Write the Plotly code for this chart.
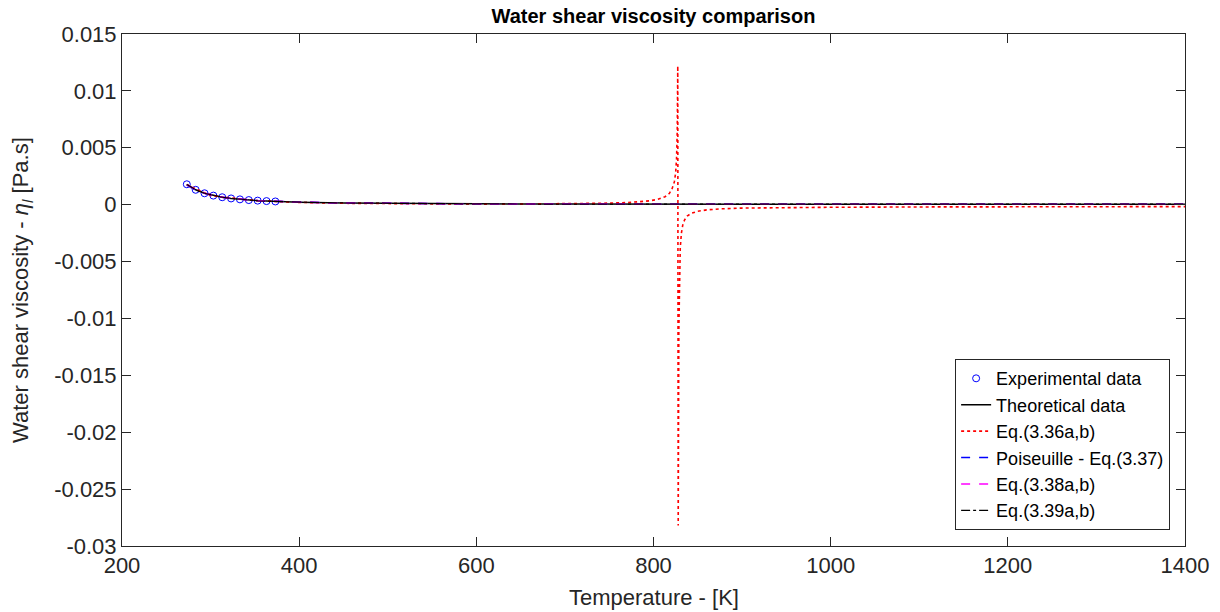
import plotly.graph_objects as go

# ---- data ----
T_exp = [273.15, 283.15, 293.15, 303.15, 313.15, 323.15, 333.15, 343.15, 353.15, 363.15, 373.15]
eta_exp = [0.001792, 0.001307, 0.001002, 0.000797, 0.000653, 0.000547, 0.000466, 0.000404, 0.000354, 0.000314, 0.000282]

T_th = [273.15, 283.15, 293.15, 303.15, 313.15, 323.15, 333.15, 343.15, 353.15, 363.15, 373.15,
        400, 450, 500, 550, 600, 700, 800, 900, 1000, 1100, 1200, 1300, 1400]
eta_th = [0.001792, 0.001307, 0.001002, 0.000797, 0.000653, 0.000547, 0.000466, 0.000404, 0.000354, 0.000314, 0.000282,
          0.00022, 0.00015, 0.00011, 0.00009, 0.00007, 0.00005, 0.00004, 0.00004, 0.00004, 0.00004, 0.00004, 0.00004, 0.00004]

T_336 = [273.15, 300, 350, 400, 450, 500, 550, 600, 650, 700, 740, 770, 785, 795, 805, 813, 818, 821, 823.5, 825, 826, 826.8, 827.4,
         827.9, 828.6, 829.3, 830.2, 831.5, 833, 835, 838, 843, 850, 860, 875, 900, 950, 1000, 1100, 1200, 1300, 1400]
eta_336 = [0.00175, 0.00080, 0.00036, 0.00020, 0.00012, 0.00008, 0.00006, 0.00005, 0.00006, 0.00008, 0.00012, 0.00018, 0.00025, 0.00033, 0.00047, 0.00070,
           0.00100, 0.00140, 0.00200, 0.00280, 0.00400, 0.00650, 0.01220,
           -0.02820, -0.01100, -0.00600, -0.00380, -0.00250, -0.00180, -0.00135, -0.00100, -0.00075, -0.00058, -0.00046, -0.00037,
           -0.00030, -0.00025, -0.00023, -0.00020, -0.00019, -0.00018, -0.00017]

T_lines = [273.15, 283.15, 293.15, 303.15, 313.15, 323.15, 333.15, 343.15, 353.15, 363.15, 373.15,
           400, 450, 500, 600, 700, 800, 900, 1000, 1100, 1200, 1300, 1400]
eta_337 = [0.00172, 0.00128, 0.00099, 0.00079, 0.00065, 0.00055, 0.00047, 0.00041, 0.00036, 0.00032, 0.00029,
           0.00022, 0.00015, 0.00011, 0.00007, 0.00005, 0.00004, 0.00003, 0.00003, 0.00003, 0.00003, 0.00003, 0.00003]
eta_338 = [0.00176, 0.00130, 0.00100, 0.00080, 0.00066, 0.00055, 0.00047, 0.00041, 0.00036, 0.00032, 0.00029,
           0.00022, 0.00015, 0.00011, 0.00007, 0.00005, 0.00004, 0.00003, 0.00003, 0.00003, 0.00003, 0.00003, 0.00003]
eta_339 = [0.00178, 0.00131, 0.00100, 0.00080, 0.00065, 0.00055, 0.00047, 0.00040, 0.00035, 0.00031, 0.00028,
           0.00022, 0.00015, 0.00011, 0.00007, 0.00005, 0.00004, 0.00004, 0.00004, 0.00004, 0.00004, 0.00004, 0.00004]

y_ticks = [0.015, 0.01, 0.005, 0, -0.005, -0.01, -0.015, -0.02, -0.025, -0.03]
y_ticktext = ["0.015", "0.01", "0.005", "0", "-0.005", "-0.01", "-0.015", "-0.02", "-0.025", "-0.03"]
x_ticks = [200, 400, 600, 800, 1000, 1200, 1400]

FONT = "Liberation Sans, Arial, Helvetica, sans-serif"

fig = go.Figure()
fig.add_trace(go.Scatter(x=T_exp, y=eta_exp, mode="markers", name="Experimental data",
                         marker=dict(symbol="circle-open", size=7, color="#0000ff", line=dict(width=1))))
fig.add_trace(go.Scatter(x=T_th, y=eta_th, mode="lines", name="Theoretical data",
                         line=dict(color="#000000", width=1.5)))
fig.add_trace(go.Scatter(x=T_336, y=eta_336, mode="lines", name="Eq.(3.36a,b)",
                         line=dict(color="#ff0000", width=1.6, dash="dot")))
fig.add_trace(go.Scatter(x=T_lines, y=eta_337, mode="lines", name="Poiseuille - Eq.(3.37)",
                         line=dict(color="#0000ff", width=1.5, dash="dash")))
fig.add_trace(go.Scatter(x=T_lines, y=eta_338, mode="lines", name="Eq.(3.38a,b)",
                         line=dict(color="#ff00ff", width=1.5, dash="dash")))
fig.add_trace(go.Scatter(x=T_lines, y=eta_339, mode="lines", name="Eq.(3.39a,b)",
                         line=dict(color="#000000", width=1.2, dash="dashdot")))

axis_common = dict(showline=True, linecolor="#262626", linewidth=1, mirror="ticks",
                   ticks="inside", ticklen=9, tickcolor="#262626", showgrid=False, zeroline=False,
                   tickfont=dict(family=FONT, size=22, color="#262626"))

fig.update_layout(
    width=1220, height=612,
    margin=dict(l=122, r=35, t=34, b=66),
    paper_bgcolor="white", plot_bgcolor="white",
    font=dict(family=FONT, color="#262626"),
    title=dict(text="<b>Water shear viscosity comparison</b>", x=(122 + 1185) / 2 / 1220, xanchor="center",
               y=1 - 16 / 612, yanchor="middle", font=dict(family=FONT, size=20, color="#000000")),
    xaxis=dict(range=[200, 1400], tickvals=x_ticks, **axis_common),
    yaxis=dict(range=[-0.03, 0.015], tickvals=y_ticks, ticktext=y_ticktext, **axis_common),
    legend=dict(x=0.986, y=0.031, xanchor="right", yanchor="bottom",
                bgcolor="white", bordercolor="#262626", borderwidth=1,
                font=dict(family=FONT, size=18, color="#000000"),
                tracegroupgap=0, itemwidth=30),
    showlegend=True,
)

fig.add_annotation(text="Temperature - [K]", xref="paper", yref="paper", x=0.5, y=-(597 - 546) / 512,
                   xanchor="center", yanchor="middle", showarrow=False,
                   font=dict(family=FONT, size=22, color="#262626"))
fig.add_annotation(text="Water shear viscosity - <i>η</i><sub><i>l</i></sub> [Pa.s]", xref="paper", yref="paper",
                   x=-(122 - 22) / 1063, y=0.5, xanchor="center", yanchor="middle", textangle=-90,
                   showarrow=False, font=dict(family=FONT, size=22, color="#262626"))

fig.write_html("out.html")
